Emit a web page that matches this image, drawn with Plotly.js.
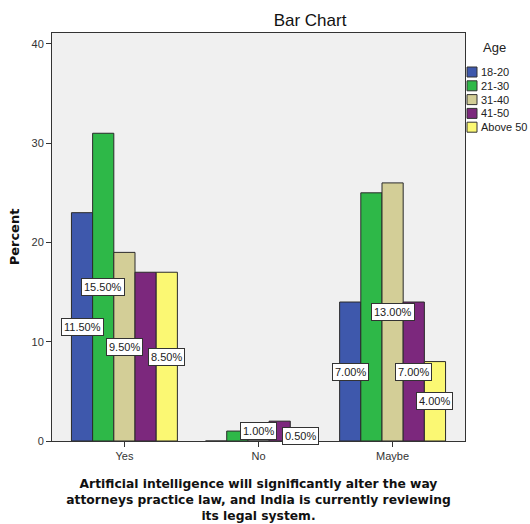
<!DOCTYPE html>
<html>
<head>
<meta charset="utf-8">
<script src="https://cdn.plot.ly/plotly-3.0.1.min.js"></script>
<style>html,body{margin:0;padding:0;background:#fff;}#chart{width:530px;height:524px;}</style>
</head>
<body>
<div id="chart"></div>
<script>
const categories = ["Yes", "No", "Maybe"];
const ageGroups = ["18-20", "21-30", "31-40", "41-50", "Above 50"];
const percent_18_20 = [23, 0, 14];
const percent_21_30 = [31, 1, 25];
const percent_31_40 = [19, 0, 26];
const percent_41_50 = [17, 2, 14];
const percent_above50 = [17, 0, 8];
const colors = ["#3E58AC", "#2EB848", "#D3CE97", "#7C287D", "#FBF873"];
// data labels as shown in the picture: category, bar slot, label value
const labelCats = ["Yes", "Yes", "Yes", "Yes", "No", "No", "Maybe", "Maybe", "Maybe", "Maybe"];
const labelSlots = [1, 0, 2, 4, 2, 4, 0, 2, 3, 4];
const labelValues = [15.5, 11.5, 9.5, 8.5, 1.0, 0.5, 7.0, 13.0, 7.0, 4.0];

const W = 530, H = 524;
const M = {l: 52, r: 65, t: 33, b: 83};
const PW = W - M.l - M.r, PH = H - M.t - M.b;
const px2x = p => (p - M.l) / PW;
const px2y = p => (H - M.b - p) / PH;
const FONT = "Liberation Sans, Arial, sans-serif";

const series = [percent_18_20, percent_21_30, percent_31_40, percent_41_50, percent_above50];
const bargap = 0.21;
const traces = series.map((vals, i) => ({
  type: "bar",
  name: ageGroups[i],
  x: categories,
  y: vals,
  marker: {color: colors[i], line: {color: "#2a2a2a", width: 1}},
  hoverinfo: "none"
}));

const slotW = (1 - bargap) / ageGroups.length;
const annotations = labelValues.map((v, k) => ({
  xref: "x", yref: "y",
  x: categories.indexOf(labelCats[k]) + (labelSlots[k] - (ageGroups.length - 1) / 2) * slotW,
  y: v,
  text: v.toFixed(2) + "%",
  showarrow: false,
  font: {family: FONT, size: 11, color: "#222"},
  bgcolor: "#ffffff",
  bordercolor: "#333333",
  borderwidth: 1,
  borderpad: 2
}));

// legend (built from ageGroups / colors)
const shapes = [];
annotations.push({
  xref: "paper", yref: "paper", x: px2x(494), y: px2y(47),
  xanchor: "center", yanchor: "middle",
  text: "Age", showarrow: false,
  font: {family: FONT, size: 13, color: "#222"}
});
ageGroups.forEach((g, i) => {
  const cy = 72 + i * 13.8;
  shapes.push({
    type: "rect", xref: "paper", yref: "paper",
    x0: px2x(467), x1: px2x(477), y0: px2y(cy - 5), y1: px2y(cy + 5),
    fillcolor: colors[i], line: {color: "#333", width: 1}
  });
  annotations.push({
    xref: "paper", yref: "paper", x: px2x(479), y: px2y(cy),
    xanchor: "left", yanchor: "middle",
    text: g, showarrow: false,
    font: {family: FONT, size: 11, color: "#222"}
  });
});

const layout = {
  width: W, height: H,
  margin: {l: M.l, r: M.r, t: M.t, b: M.b, autoexpand: false},
  paper_bgcolor: "#ffffff",
  plot_bgcolor: "#F0F0F0",
  barmode: "group",
  bargap: bargap,
  bargroupgap: 0,
  showlegend: false,
  title: {text: "Bar Chart", xref: "container", x: 310 / W, xanchor: "center", y: 1 - 20/H, yanchor: "middle",
    font: {family: FONT, size: 17, color: "#111"}},
  xaxis: {
    type: "category",
    range: [-0.54, 2.54],
    showline: true, linecolor: "#333", linewidth: 1, mirror: true,
    ticks: "outside", ticklen: 5, tickcolor: "#333",
    tickfont: {family: FONT, size: 11, color: "#333"},
    showgrid: false, zeroline: false,
    title: {text: "<b>Artificial intelligence will significantly alter the way<br>attorneys practice law, and India is currently reviewing<br>its legal system.</b>",
      standoff: 18,
      font: {family: "DejaVu Sans, Verdana, sans-serif", size: 12.3, color: "#111"}}
  },
  yaxis: {
    range: [0, 41.1],
    tickvals: [0, 10, 20, 30, 40],
    showline: true, linecolor: "#333", linewidth: 1, mirror: true,
    ticks: "outside", ticklen: 5, tickcolor: "#333",
    tickfont: {family: FONT, size: 11, color: "#333"},
    showgrid: false, zeroline: false,
    title: {text: "<b>Percent</b>", standoff: 8,
      font: {family: "DejaVu Sans, Verdana, sans-serif", size: 13, color: "#111"}}
  },
  shapes: shapes,
  annotations: annotations
};

Plotly.newPlot("chart", traces, layout, {displayModeBar: false, staticPlot: true});
</script>
</body>
</html>
